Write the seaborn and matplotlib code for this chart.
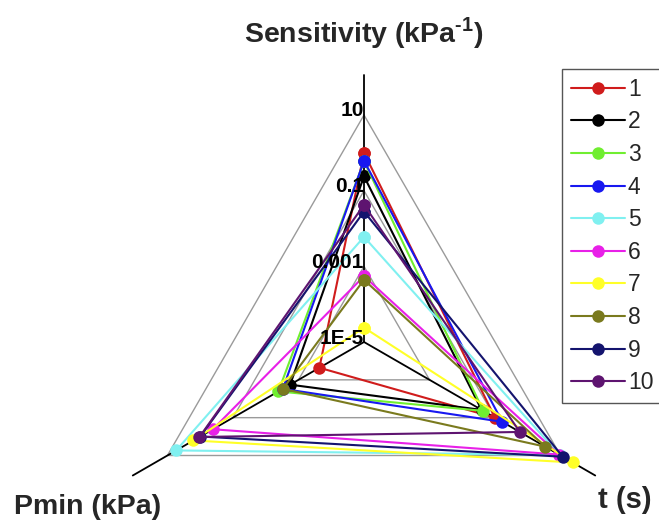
import numpy as np
import pandas as pd
import matplotlib
matplotlib.use("Agg")
import matplotlib.pyplot as plt
import seaborn as sns

# ---------------- data ----------------
series_labels = ["1", "2", "3", "4", "5", "6", "7", "8", "9", "10"]
series_colors = ["#d01c1c", "#000000", "#70ee30", "#1818f0", "#80f0f0",
                 "#e820e8", "#ffff28", "#7a7a1e", "#14146e", "#5e1470"]
axis_names = ["Sensitivity (kPa$^{\\mathbf{\u2010}\\mathbf{1}}$)", "Pmin (kPa)", "t (s)"]
axis_angles_deg = [90, 210, 330]
sensitivity = [1.0, 0.24, 0.6, 0.62, 0.006, 5.5e-4, 2.4e-5, 4.4e-4, 0.028, 0.042]
pmin = [2.3e-4, 1.8e-3, 4.1e-3, 3.0e-3, 5.4, 0.41, 1.6, 3.0e-3, 0.99, 1.05]
t_s = [0.1, 0.039, 0.044, 0.166, 9.4, 8.9, 23.4, 3.4, 11.6, 0.57]
grid_levels = [10, 0.1, 0.001]
tick_values = [10, 0.1, 0.001, 1e-5]
tick_labels = ["10", "0.1", "0.001", "1E-5"]

# ---------------- style ----------------
sns.set_style("white")
plt.rcParams["font.family"] = ["Liberation Sans", "DejaVu Sans"]
plt.rcParams["mathtext.fontset"] = "custom"
plt.rcParams["mathtext.rm"] = "Liberation Sans"
plt.rcParams["mathtext.bf"] = "Liberation Sans:bold"

W, H = 659, 522
fig = plt.figure(figsize=(W / 100, H / 100), dpi=100)

cx, cy = 364, 342          # centre in pixels (from top)
R_axis = 267               # pixel length of the axis lines
R_outer = 227              # pixel radius of the "10" level
rmin = 1e-5
rmax = 10 ** (np.log10(rmin) + 6 * R_axis / R_outer)

ax = fig.add_axes([(cx - R_axis) / W, (H - cy - R_axis) / H,
                   2 * R_axis / W, 2 * R_axis / H], projection="polar")
ax.set_rscale("log")
ax.set_rlim(rmin, rmax)
ax.grid(False)
ax.set_xticks([])
ax.set_yticks([])
ax.spines["polar"].set_visible(False)
ax.patch.set_alpha(0)

thetas = np.deg2rad(axis_angles_deg)
closed_theta = np.append(thetas, thetas[0] + 2 * np.pi)

# grid triangles
for lvl in grid_levels:
    ax.plot(closed_theta, [lvl] * 4, color="#9a9a9a", lw=1.0, zorder=1, clip_on=False)

# axis lines
for th in thetas:
    ax.plot([th, th], [rmin, rmax], color="black", lw=1.3, zorder=2, clip_on=False)

# tick labels on the sensitivity axis
for v, lab in zip(tick_values, tick_labels):
    ax.annotate(lab, xy=(thetas[0], v), xytext=(0, 4), textcoords="offset pixels",
                ha="right", va="center", fontsize=15, fontweight="bold",
                color="black", zorder=5, annotation_clip=False)

# series
rows = []
for i, lab in enumerate(series_labels):
    vals = [sensitivity[i], pmin[i], t_s[i]]
    vals = vals + [vals[0]]
    for k in range(4):
        rows.append({"series": lab, "theta": closed_theta[k], "r": vals[k], "order": k})
df = pd.DataFrame(rows)

for i, lab in enumerate(series_labels):
    sub = df[df["series"] == lab]
    sns.lineplot(data=sub, x="theta", y="r", sort=False, estimator=None, ax=ax,
                 color=series_colors[i], lw=1.5, marker="o", markersize=9,
                 markeredgewidth=0, label=lab, zorder=3 + i * 0.01)

handles, labels = ax.get_legend_handles_labels()
if ax.get_legend() is not None:
    ax.get_legend().remove()
ax.set_xlabel("")
ax.set_ylabel("")
ax.set_rlim(rmin, rmax)

leg = fig.legend(handles, labels, loc="upper left",
                 bbox_to_anchor=(562 / W, 1 - 69 / H), borderaxespad=0,
                 frameon=True, fancybox=False, framealpha=1, edgecolor="#555555",
                 fontsize=16.5, handlelength=2.35, handletextpad=0.15,
                 labelspacing=0.42, borderpad=0.38, numpoints=1)
leg.get_frame().set_linewidth(1.0)

# axis titles
fig.text(364 / W, 1 - 33 / H, axis_names[0], ha="center", va="center",
         fontsize=20.5, fontweight="bold")
fig.text(88 / W, 1 - 507 / H, axis_names[1], ha="center", va="center",
         fontsize=20.5, fontweight="bold")
fig.text(625 / W, 1 - 500 / H, axis_names[2], ha="center", va="center",
         fontsize=21, fontweight="bold")

fig.savefig("out.png", dpi=100)
